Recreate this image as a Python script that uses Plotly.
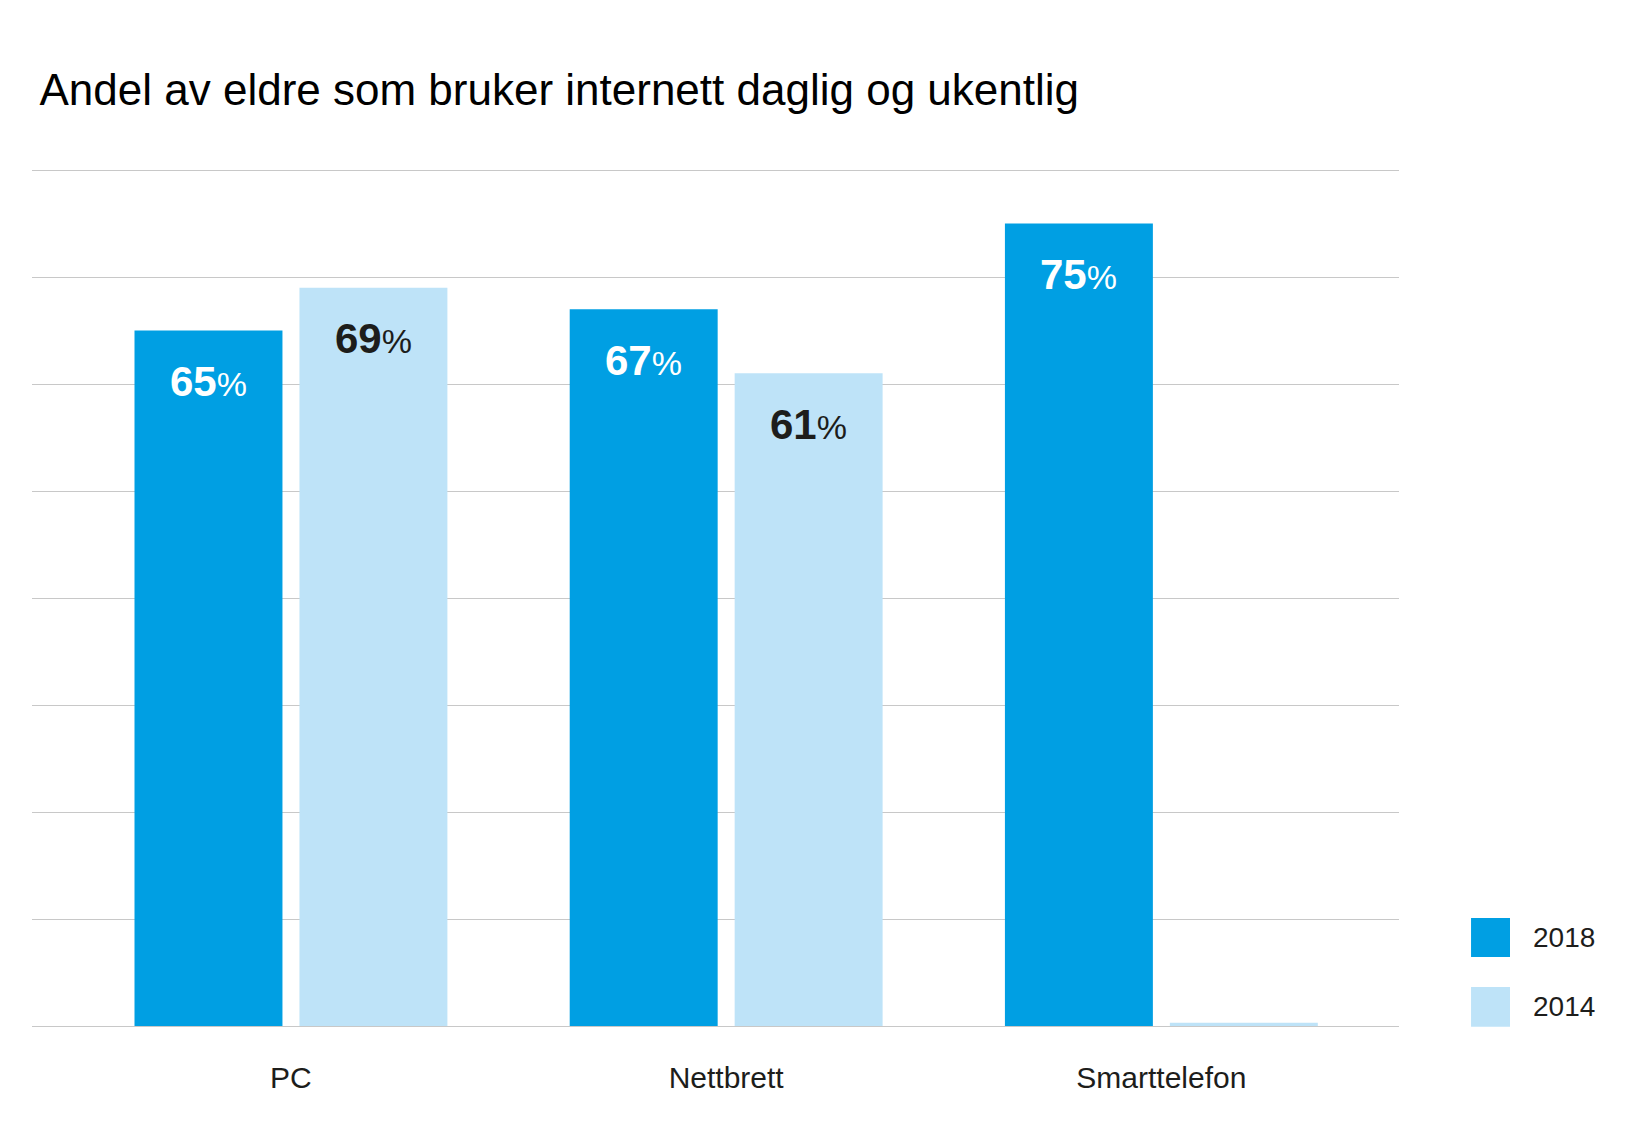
import plotly.graph_objects as go

categories = ["PC", "Nettbrett", "Smarttelefon"]
series_names = ["2018", "2014"]
values_2018 = [65, 67, 75]
values_2014 = [69, 61, 0.3]
labels_2018 = ["65", "67", "75"]
labels_2014 = ["69", "61", ""]

colors = ["#009fe3", "#bee3f8"]
label_colors = ["#ffffff", "#1d1d1b"]
FONT = "Liberation Sans, Arial, sans-serif"

W, H = 1614, 1124  # page body adds an 8px margin

fig = go.Figure()
for name, vals, col in zip(series_names, [values_2018, values_2014], colors):
    fig.add_trace(go.Bar(
        name=name, x=categories, y=vals,
        marker=dict(color=col, line=dict(width=0)),
        showlegend=False, hoverinfo="skip",
    ))

# value labels inside the bars, near the top
for i, (vals, labs) in enumerate([(values_2018, labels_2018), (values_2014, labels_2014)]):
    shift = -82.5 if i == 0 else 82.5
    for cat, v, lab in zip(categories, vals, labs):
        if not lab:
            continue
        fig.add_annotation(
            x=cat, y=v, xref="x", yref="y",
            text="<b>" + lab + "</b><span style='font-size:34px'>%</span>",
            showarrow=False, xshift=shift, yshift=-51,
            xanchor="center", yanchor="middle",
            font=dict(family=FONT, size=42, color=label_colors[i]),
        )

# legend drawn by hand so the swatches can be large
leg_y = [(0.0805, 0.126), (-0.001, 0.0455)]
for name, col, (y0, y1) in zip(series_names, colors, leg_y):
    fig.add_shape(type="rect", xref="paper", yref="paper",
                  x0=1.0527, x1=1.0812, y0=y0, y1=y1,
                  fillcolor=col, line=dict(width=0))
    fig.add_annotation(xref="paper", yref="paper", x=1.0966, y=(y0 + y1) / 2,
                       text=name, showarrow=False, xanchor="left", yanchor="middle",
                       font=dict(family=FONT, size=28, color="#1d1d1b"))

fig.update_layout(
    width=W, height=H,
    paper_bgcolor="white", plot_bgcolor="white",
    margin=dict(l=24, r=W - 24 - 1367, t=161, b=H - 161 - 857),
    barmode="group", bargap=0.242, bargroupgap=0.103,
    title=dict(text="Andel av eldre som bruker internett daglig og ukentlig",
               x=31.5 / W, xanchor="left", y=1 - 82 / H, yanchor="middle",
               font=dict(family=FONT, size=44, color="#000000")),
    font=dict(family=FONT),
)
fig.update_xaxes(
    type="category", range=[-0.595, 2.546],
    showgrid=False, showline=False, zeroline=False,
    ticks="", ticklabelstandoff=31,
    tickfont=dict(family=FONT, size=30, color="#1d1d1b"),
)
fig.update_yaxes(
    range=[0, 80.1], dtick=10, showticklabels=False,
    showgrid=True, gridcolor="#c8c8c8", gridwidth=1,
    zeroline=True, zerolinecolor="#c8c8c8", zerolinewidth=1,
    showline=False,
)

fig.write_html("out.html")
